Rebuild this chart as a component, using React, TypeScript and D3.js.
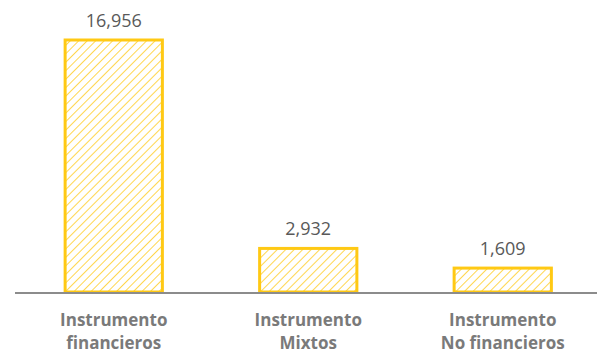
import React from "react";
import * as d3 from "d3";

const categories: string[][] = [
  ["Instrumento", "financieros"],
  ["Instrumento", "Mixtos"],
  ["Instrumento", "No financieros"],
];
const values: number[] = [16956, 2932, 1609];
const valueLabels: string[] = ["16,956", "2,932", "1,609"];

const W = 597;
const H = 354;
const baseY = 292;
const YELLOW = "#FFC914";

export default function App() {
  const keys = categories.map((_, i) => String(i));
  const x = d3
    .scaleBand<string>()
    .domain(keys)
    .range([16.5, 600])
    .paddingInner(0.5)
    .paddingOuter(0.25);
  const y = d3.scaleLinear().domain([0, 16956]).range([baseY, 40]);

  return (
    <svg
      width={W}
      height={H}
      style={{ position: "absolute", left: 0, top: 0, background: "#fff" }}
      fontFamily="'Open Sans', sans-serif"
    >
      <defs>
        <pattern
          id="hatch"
          patternUnits="userSpaceOnUse"
          width={6}
          height={6}
          patternTransform="rotate(45)"
        >
          <line x1={0} y1={0} x2={0} y2={6} stroke={YELLOW} strokeWidth={1.5} />
        </pattern>
      </defs>
      {values.map((v, i) => {
        const bx = x(String(i))!;
        const bw = x.bandwidth();
        const by = y(v);
        return (
          <g key={i}>
            <rect
              x={bx}
              y={by}
              width={bw}
              height={baseY - by}
              fill="url(#hatch)"
              stroke={YELLOW}
              strokeWidth={3}
            />
            <text
              x={bx + bw / 2}
              y={by - 13}
              textAnchor="middle"
              fontSize={18}
              fill="#595959"
            >
              {valueLabels[i]}
            </text>
            {categories[i].map((line, j) => (
              <text
                key={j}
                x={bx + bw / 2}
                y={326 + j * 23}
                textAnchor="middle"
                fontSize={17}
                fontWeight={700}
                fill="#7a7a7a"
              >
                {line}
              </text>
            ))}
          </g>
        );
      })}
      <line x1={15} x2={W} y1={293} y2={293} stroke="#8c8c8c" strokeWidth={2} />
    </svg>
  );
}
